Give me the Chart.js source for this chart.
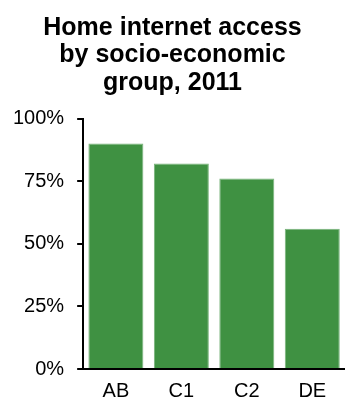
<!DOCTYPE html>
<html>
<head>
<meta charset="utf-8">
<script src="https://cdn.jsdelivr.net/npm/chart.js@4"></script>
<style>
  html, body { margin: 0; padding: 0; background: #fff; }
  #wrap { width: 345px; height: 401px; position: relative; }
</style>
</head>
<body>
<div id="wrap"><canvas id="accessChart"></canvas></div>
<script>
// socio-economic groups and share of homes with internet access (%)
const groups = ['AB', 'C1', 'C2', 'DE'];
const accessPct = [90, 82, 76, 56];
const yTicks = [0, 25, 50, 75, 100];

const titleLines = ['Home internet access', 'by socio-economic', 'group, 2011'];

Chart.defaults.font.family = "'Liberation Sans', Arial, sans-serif";
Chart.defaults.color = '#000';

const ctx = document.getElementById('accessChart').getContext('2d');

new Chart(ctx, {
    type: 'bar',
    data: {
        labels: groups,
        datasets: [{
            data: accessPct,
            backgroundColor: '#3f9142',
            borderColor: '#78b37a',
            borderWidth: 1,
            categoryPercentage: 1,
            barPercentage: 0.84
        }]
    },
    options: {
        responsive: true,
        maintainAspectRatio: false,
        animation: false,
        layout: { padding: { top: 0, left: 0, right: 0, bottom: -12 } },
        scales: {
            x: {
                grid: { display: false, drawTicks: false },
                border: { color: '#000', width: 2 },
                ticks: { padding: 10, font: { size: 20 }, color: '#000' }
            },
            y: {
                min: 0,
                max: 100,
                afterBuildTicks: (axis) => {
                    axis.ticks = yTicks.map(v => ({ value: v }));
                },
                grid: {
                    drawOnChartArea: false,
                    drawTicks: true,
                    tickLength: 6,
                    color: '#000',
                    lineWidth: 2
                },
                border: { color: '#000', width: 2 },
                ticks: {
                    padding: 13,
                    font: { size: 20 },
                    color: '#000',
                    callback: (v) => v + '%'
                }
            }
        },
        plugins: {
            legend: { display: false },
            tooltip: { enabled: false },
            title: {
                display: true,
                text: titleLines,
                color: '#000',
                font: { size: 25, weight: 'bold', lineHeight: 1.1 },
                padding: { top: 14, bottom: 22 }
            }
        }
    }
});
</script>
</body>
</html>
